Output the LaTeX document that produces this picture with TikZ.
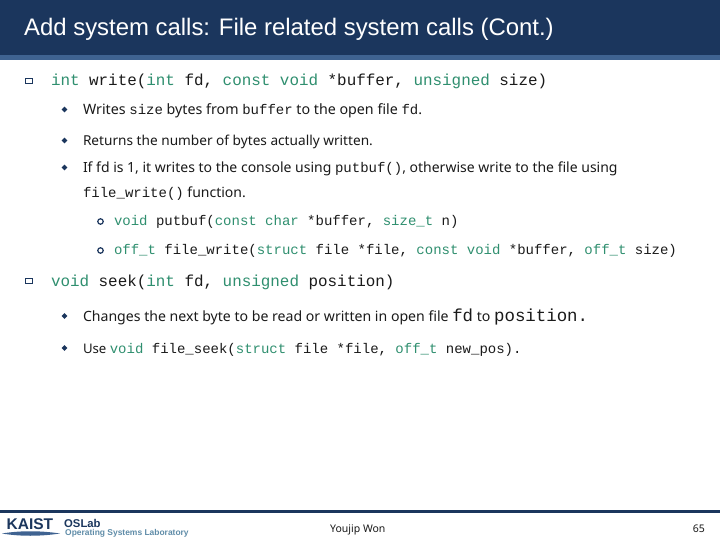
\documentclass[tikz,border=0pt]{standalone}
\usepackage{fontspec}
\setmainfont{Noto Sans}
\setmonofont{Liberation Mono}
\newfontfamily\titlefont{Liberation Sans}
\usetikzlibrary{shapes.geometric, positioning, calc}
\definecolor{barnavy}{HTML}{1B365D}
\definecolor{barblue}{HTML}{3F6391}
\definecolor{kwgreen}{HTML}{2F8F6F}
\definecolor{bodyink}{HTML}{1A1A1A}
\definecolor{labgray}{HTML}{5F8CA8}
\newcommand{\kw}[1]{\textcolor{kwgreen}{#1}}
\newcommand{\codeL}{\ttfamily\fontsize{15.9}{18}\selectfont}
\newcommand{\codeM}{\ttfamily\fontsize{14}{17}\selectfont}
\newcommand{\codeB}{\ttfamily\fontsize{17.4}{20}\selectfont}
\tikzset{
  line/.style={anchor=base west, inner sep=0pt, outer sep=0pt, text=bodyink},
  textline/.style={line, font=\fontsize{#1}{16}\selectfont},
  textline/.default=14,
  codeline/.style={line, font=\codeL},
  subline/.style={line, font=\codeM},
  boxbullet/.style={draw=barnavy, line width=1.6pt, fill=white, minimum width=7pt, minimum height=5pt, inner sep=0pt},
  dotbullet/.style={diamond, fill=barnavy, minimum size=6pt, inner sep=0pt},
  ringbullet/.style={circle, draw=barnavy, line width=1.2pt, fill=white, minimum size=5.5pt, inner sep=0pt}
}
\begin{document}
\begin{tikzpicture}[x=1pt, y=-1pt]
\useasboundingbox (0,0) rectangle (720,540);
\fill[white] (0,0) rectangle (720,540);

% Title bar
\fill[barnavy] (0,0) rectangle (720,55);
\fill[barblue] (0,55) rectangle (720,60);
\node[anchor=base west, inner sep=0pt, text=white, font=\titlefont\fontsize{23.9}{28}\selectfont] (title) at (24,36) {Add system calls: File related system calls (Cont.)};

% write
\node[boxbullet] (b1) at (29,81) {};
\node[codeline] (l1) at (51,85.5) {\kw{int} write(\kw{int} fd, \kw{const} \kw{void} *buffer, \kw{unsigned} size)};

\node[dotbullet] (d1) at (64.5,109.5) {};
\node[textline=14.25] (l2) at (83,114.5) {Writes {\codeM size} bytes from {\codeM buffer} to the open file {\codeM fd}.};

\node[dotbullet] (d2) at (64.5,140.5) {};
\node[textline=13.65] (l3) at (83,145.5) {Returns the number of bytes actually written.};

\node[dotbullet] (d3) at (64.5,167.5) {};
\node[textline] (l4) at (83,172.5) {If fd is 1, it writes to the console using {\codeM putbuf()}, otherwise write to the file using};
\node[textline] (l5) at (83,197.5) {{\codeM file\_write()} function.};

\node[ringbullet] (r1) at (100.5,221.5) {};
\node[subline] (l6) at (114,225.5) {\kw{void} putbuf(\kw{const} \kw{char} *buffer, \kw{size\_t} n)};

\node[ringbullet] (r2) at (100.5,250.5) {};
\node[subline] (l7) at (114,254.5) {\kw{off\_t} file\_write(\kw{struct} file *file, \kw{const} \kw{void} *buffer, \kw{off\_t} size)};

% seek
\node[boxbullet] (b2) at (29,281) {};
\node[codeline] (l8) at (51,286) {\kw{void} seek(\kw{int} fd, \kw{unsigned} position)};

\node[dotbullet] (d4) at (64.5,316) {};
\node[textline=14.1] (l9) at (83,321) {Changes the next byte to be read or written in open file {\codeB fd} to {\codeB position.}};

\node[dotbullet] (d5) at (64.5,348) {};
\node[textline=13.2] (l10) at (83,353) {Use {\codeM\kw{void} file\_seek(\kw{struct} file *file, \kw{off\_t} new\_pos).}};

% Footer
\fill[barnavy] (0,510) rectangle (720,513);
\node[anchor=base west, inner sep=0pt, text=barnavy, font=\titlefont\bfseries\fontsize{15.5}{18}\selectfont] (kaist) at (6.5,529) {KAIST};
\fill[barblue] (2,533.5) .. controls (20,530.5) and (40,530.5) .. (60,533.5) .. controls (40,536.5) and (20,536.5) .. (2,533.5) -- cycle;
\node[anchor=base west, inner sep=0pt, text=barnavy, font=\titlefont\bfseries\fontsize{11.3}{15}\selectfont] (oslab) at (64,527) {OSLab};
\node[anchor=base west, inner sep=0pt, text=labgray, font=\titlefont\bfseries\fontsize{8.45}{10}\selectfont] (oslname) at (65,535.5) {Operating Systems Laboratory};
\node[anchor=base west, inner sep=0pt, text=bodyink, font=\fontsize{10.5}{12}\selectfont] (author) at (330,532) {Youjip Won};
\node[anchor=base east, inner sep=0pt, text=bodyink, font=\fontsize{10.5}{12}\selectfont] (page) at (705,532) {65};
\end{tikzpicture}
\end{document}
